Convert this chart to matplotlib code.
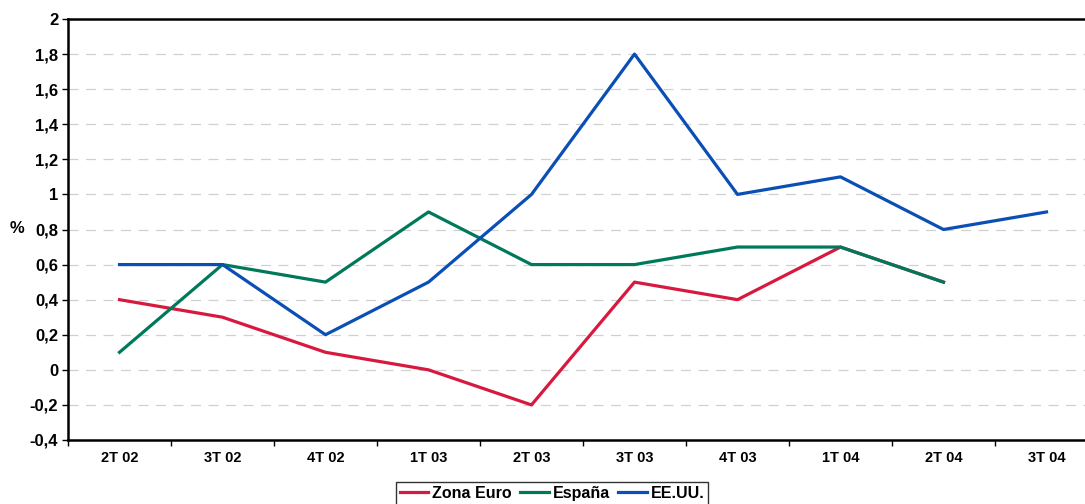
import matplotlib.pyplot as plt
import numpy as np
from matplotlib.ticker import FuncFormatter

plt.rcParams['font.family'] = ['Liberation Sans', 'DejaVu Sans']

trimestres = ['2T 02', '3T 02', '4T 02', '1T 03', '2T 03', '3T 03', '4T 03', '1T 04', '2T 04', '3T 04']
zona_euro = [0.4, 0.3, 0.1, 0.0, -0.2, 0.5, 0.4, 0.7, 0.5]
espana = [0.1, 0.6, 0.5, 0.9, 0.6, 0.6, 0.7, 0.7, 0.5]
eeuu = [0.6, 0.6, 0.2, 0.5, 1.0, 1.8, 1.0, 1.1, 0.8, 0.9]


def coma(v, pos):
    txt = '%.1f' % v
    if txt.endswith('.0'):
        txt = txt[:-2]
    if txt == '-0':
        txt = '0'
    return txt.replace('.', ',')


fig = plt.figure(figsize=(10.85, 5.04), dpi=100)
ax = fig.add_axes([68 / 1085, 64 / 504, 1030 / 1085, 421 / 504])

ax.plot(np.arange(len(zona_euro)), zona_euro, color='#d8193f', lw=2.3, label='Zona Euro')
ax.plot(np.arange(len(espana)), espana, color='#00795a', lw=2.3, label='España')
ax.plot(np.arange(len(eeuu)), eeuu, color='#0a4fb5', lw=2.3, label='EE.UU.')

ax.set_xlim(-0.5, len(trimestres) - 0.5)
ax.set_ylim(-0.4, 2.0)
ax.set_yticks(np.arange(-0.4, 2.01, 0.2))
ax.yaxis.set_major_formatter(FuncFormatter(coma))

# category labels centred, tick marks between categories
ax.set_xticks(np.arange(len(trimestres) + 1) - 0.5)
ax.set_xticklabels([])
ax.set_xticks(np.arange(len(trimestres)), minor=True)
ax.set_xticklabels(trimestres, minor=True)
ax.tick_params(axis='x', which='minor', length=0, pad=8, labelsize=10.5)
ax.tick_params(axis='x', which='major', length=4, width=1, direction='out')
ax.tick_params(axis='y', length=4, width=1, direction='out', labelsize=12, pad=3)
for lbl in ax.get_xticklabels(minor=True) + ax.get_yticklabels():
    lbl.set_fontweight('bold')

ax.grid(axis='y', color='#d0d0d0', linestyle=(0, (8, 6)), linewidth=0.9)
ax.set_axisbelow(True)
for s in ax.spines.values():
    s.set_linewidth(1.8)

fig.text(17 / 1085, 1 - 229 / 504, '%', fontsize=12, fontweight='bold', ha='center', va='center')

leg = fig.legend(loc='upper center', bbox_to_anchor=(552 / 1085, 1 - 482 / 504), ncol=3,
                 frameon=True, fancybox=False, edgecolor='black', handlelength=1.8,
                 handletextpad=0.25, columnspacing=0.5, borderpad=0.25, borderaxespad=0,
                 prop={'weight': 'bold', 'size': 11.5})
leg.get_frame().set_linewidth(1.0)

fig.savefig('out.png', dpi=100)
